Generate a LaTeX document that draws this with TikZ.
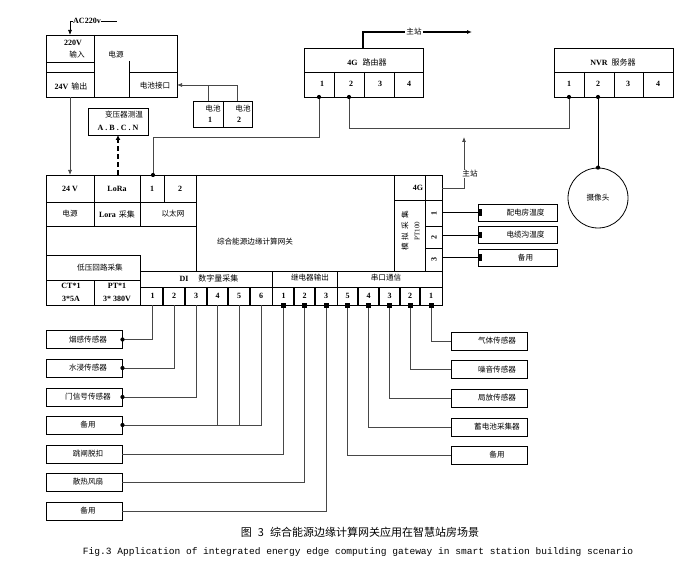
\documentclass[tikz,border=0pt]{standalone}
\usepackage{fontspec}
\setmainfont{Liberation Serif}
\newfontfamily\cjk{Noto Sans CJK SC}
\newfontfamily\mono{Liberation Mono}
\usetikzlibrary{arrows.meta,calc}
\begin{document}
\begin{tikzpicture}[x=1pt,y=-1pt,
 box/.style={draw=black,line width=0.95pt},
 zh/.style={font=\cjk\fontsize{7.6}{8}\selectfont,inner sep=0pt},
 en/.style={font=\bfseries\fontsize{8}{9}\selectfont,inner sep=0pt},
 sensor/.style={draw=black,line width=0.95pt,minimum width=76pt,minimum height=18pt,inner sep=0pt,font=\cjk\fontsize{7.6}{8}\selectfont},
 rsensor/.style={sensor,minimum width=79pt,minimum height=17pt},
 wire/.style={line width=0.75pt,draw=black!72},
 arr/.style={-{Latex[length=5pt,width=4pt]}},
]
\useasboundingbox (0,0) rectangle (687,561);

% ---------- power box ----------
\draw[box] (46,35) rectangle (177,97);
\draw[box] (94,35)--(94,97) (46,62)--(94,62) (46,72)--(94,72) (129,61)--(129,97) (129,72)--(177,72);
\node[en] (t220) at (73,43) {220V};
\node[zh] (tin) at (77,55) {输入};
\node[zh] (tpw) at (116,55) {电源};
\node[en] (t24o) at (71,86) {24V\hspace{3pt}{\cjk\mdseries 输出}};
\node[zh] (tbi) at (155,86) {电池接口};
\node[en] (tac) at (87,21) {AC220v};
\coordinate (pwrin) at (70,35);
\coordinate (acend) at (117,21);
\draw[arr,line width=0.7pt] (tac.west) -| (pwrin);
\draw[line width=0.7pt] (tac.east) -- (acend);

% ---------- batteries ----------
\draw[box] (193,101) rectangle (252,127) (223,101)--(223,127);
\node[zh] (tb1) at (213,109) {电池};
\node[en] (nb1) at (210,120) {1};
\node[zh] (tb2) at (243,109) {电池};
\node[en] (nb2) at (239,120) {2};
\coordinate (b1) at (208,101);
\coordinate (b2) at (237,101);
\coordinate (bj) at (237,85);
\coordinate (pbat) at (177,85);
\draw[wire] (b1) |- (bj);
\draw[wire,arr] (b2) -- (bj) -- (pbat);

% ---------- transformer temperature ----------
\draw[box] (88,108) rectangle (148,135);
\node[zh] (ttr) at (124,115) {变压器测温};
\node[en] (tabc) at (118,128) {A . B . C . N};
\coordinate (trb) at (118,135);
\coordinate (lora) at (118,175);
\draw[line width=1.6pt,dash pattern=on 5pt off 3pt,-{Latex[length=5pt,width=5pt]}] (lora) -- (trb);

% 24V line
\coordinate (pwrout) at (70,97);
\coordinate (gw24) at (70,175);
\draw[wire,arr] (pwrout) -- (gw24);

% ---------- 4G router ----------
\draw[box] (304,48) rectangle (423,97);
\draw[box] (304,72)--(423,72) (334,72)--(334,97) (364,72)--(364,97) (394,72)--(394,97);
\node[en] (trt) at (367,62) {4G\hspace{5pt}{\cjk\mdseries 路由器}};
\node[en] (r1l) at (322,84) {1};
\node[en] (r2l) at (351,84) {2};
\node[en] (r3l) at (380,84) {3};
\node[en] (r4l) at (409,84) {4};
\coordinate (rtop) at (363,48);
\node[zh,fill=white,inner sep=1pt] (zz1) at (414,32) {主站};
\coordinate (zzend) at (472,32);
\draw[line width=1.2pt] (rtop) |- (zz1.west);
\draw[line width=1.2pt,arr] (zz1.east) -- (zzend);

% ---------- NVR ----------
\draw[box] (554,48) rectangle (673,97);
\draw[box] (554,72)--(673,72) (584,72)--(584,97) (614,72)--(614,97) (643,72)--(643,97);
\node[en] (tnvr) at (613,62) {NVR\hspace{4pt}{\cjk\mdseries 服务器}};
\node[en] (n1l) at (569,84) {1};
\node[en] (n2l) at (598,84) {2};
\node[en] (n3l) at (628,84) {3};
\node[en] (n4l) at (658,84) {4};
\node[draw=black,line width=0.8pt,circle,minimum size=60pt,inner sep=0pt,font=\cjk\fontsize{7.6}{8}\selectfont] (cam) at (598,198) {摄像头};

% router / NVR wiring
\coordinate (r1) at (319,97);
\coordinate (r2) at (349,97);
\coordinate (n1) at (569,97);
\coordinate (n2) at (598,97);
\coordinate (e1) at (153,175);
\coordinate (k1) at (319,137);
\coordinate (k2) at (569,128);
\draw[wire] (e1) |- (k1) -- (r1);
\draw[wire] (r2) |- (k2) -- (n1);
\draw[line width=0.8pt] (n2) -- (cam.north);
\foreach \p in {r1,r2,n1,n2,e1} \fill (\p) circle (2.1pt);
\fill (cam.north) circle (2.1pt);

% ---------- gateway ----------
\draw[box] (46,175) rectangle (442,305);
\draw[box] (46,202)--(196,202) (46,226)--(196,226)
  (94,175)--(94,226) (140,175)--(140,226) (164,175)--(164,202) (196,175)--(196,271)
  (46,255)--(140,255) (140,255)--(140,305) (46,280)--(140,280) (94,280)--(94,305)
  (140,271)--(442,271) (140,287)--(442,287)
  (272,271)--(272,305) (337,271)--(337,305)
  (394,175)--(394,271) (425,175)--(425,271) (394,200)--(442,200) (425,226)--(442,226) (425,248)--(442,248);
\foreach \x in {163,185,207,228,250,294,315,358,379,400,420}
  \draw[line width=1.4pt] (\x,287)--(\x,305);

\node[en] (g24) at (70,189) {24 V};
\node[en] (glora) at (117,189) {LoRa};
\node[en] (ge1) at (152,189) {1};
\node[en] (ge2) at (180,189) {2};
\node[zh] (gpw) at (70,214) {电源};
\node[en] (glc) at (117,214) {Lora\hspace{3pt}{\cjk\mdseries 采集}};
\node[zh] (geth) at (173,214) {以太网};
\node[zh] (glv) at (100,268) {低压回路采集};
\node[en] (gct) at (71,286) {CT*1};
\node[en] (gct2) at (71,299) {3*5A};
\node[en] (gpt) at (117,286) {PT*1};
\node[en] (gpt2) at (117,299) {3* 380V};
\node[en] (gdi) at (209,278) {DI\hspace{10pt}{\cjk\mdseries 数字量采集}};
\node[zh] (grl) at (310,278) {继电器输出};
\node[zh] (gsr) at (386,278) {串口通信};
\node[zh] (gtitle) at (255,242) {综合能源边缘计算网关};
\node[en] (g4g) at (418,188) {4G};
\node[zh,rotate=90] (gan) at (405,231) {模\hspace{3pt}拟\hspace{3pt}采\hspace{3pt}集};
\node[font=\fontsize{7}{8}\selectfont,inner sep=0pt,rotate=90] (gpt100) at (417,231) {PT100};
\node[en,rotate=90] (ga1) at (434,213) {1};
\node[en,rotate=90] (ga2) at (434,237) {2};
\node[en,rotate=90] (ga3) at (434,259) {3};

% port numbers
\foreach \x/\l in {152.5/1,174/2,196/3,217.5/4,239/5,261/6,283.5/1,304.5/2,326/3,347.5/5,368.5/4,389.5/3,410/2,431/1}
  \node[en] at (\x,296) {\l};

% ---------- 4G to master station ----------
\coordinate (g4) at (442,188);
\coordinate (g4c) at (464,188);
\coordinate (g4up) at (464,137);
\draw[wire,arr] (g4) -- (g4c) -- (g4up);
\node[zh,fill=white,inner sep=1pt] (zz2) at (470,174) {主站};

% ---------- analog sensors ----------
\node[rsensor] (rt1) at (517.5,212.5) {\hspace*{16pt}配电房温度};
\node[rsensor] (rt2) at (517.5,235) {\hspace*{16pt}电缆沟温度};
\node[rsensor] (rt3) at (517.5,257.5) {\hspace*{16pt}备用};
\coordinate (a1) at (442,212.5);
\coordinate (a2) at (442,235);
\coordinate (a3) at (442,257.5);
\draw[line width=0.8pt] (a1) -- (rt1.west);
\draw[line width=0.8pt] (a2) -- (rt2.west);
\draw[line width=1.6pt] (a3) -- (rt3.west);
\foreach \n in {rt1,rt2,rt3} \fill ($(\n.west)+(0,-3.2)$) rectangle ++(4.5,6.4);

% ---------- left lower sensors ----------
\node[sensor] (ls1) at (84,339.5) {\hspace*{8pt}烟感传感器};
\node[sensor] (ls2) at (84,368) {\hspace*{8pt}水浸传感器};
\node[sensor] (ls3) at (84,397) {\hspace*{8pt}门信号传感器};
\node[sensor] (ls4) at (84,425) {\hspace*{8pt}备用};
\node[sensor] (ls5) at (84,454) {\hspace*{8pt}跳闸脱扣};
\node[sensor] (ls6) at (84,482) {\hspace*{8pt}散热风扇};
\node[sensor] (ls7) at (84,511) {\hspace*{8pt}备用};
\coordinate (di1) at (152.5,305);
\coordinate (di2) at (174,305);
\coordinate (di3) at (196,305);
\coordinate (di4) at (217.5,305);
\coordinate (di5) at (239,305);
\coordinate (di6) at (261,305);
\coordinate (do1) at (283.5,305);
\coordinate (do2) at (304.5,305);
\coordinate (do3) at (326,305);
\draw[wire] (di1) |- (ls1.east);
\draw[wire] (di2) |- (ls2.east);
\draw[wire] (di3) |- (ls3.east);
\draw[wire] (di6) |- (ls4.east);
\draw[wire] (di4) -- (di4 |- ls4.east);
\draw[wire] (di5) -- (di5 |- ls4.east);
\draw[wire] (do1) |- (ls5.east);
\draw[wire] (do2) |- (ls6.east);
\draw[wire] (do3) |- (ls7.east);
\foreach \n in {ls1,ls2,ls3,ls4} \fill (\n.east) circle (2.1pt);

% ---------- right lower sensors ----------
\node[sensor] (rs1) at (489,341) {\hspace*{16pt}气体传感器};
\node[sensor] (rs2) at (489,369.5) {\hspace*{16pt}噪音传感器};
\node[sensor] (rs3) at (489,398) {\hspace*{16pt}局放传感器};
\node[sensor] (rs4) at (489,427) {\hspace*{16pt}蓄电池采集器};
\node[sensor] (rs5) at (489,455) {\hspace*{16pt}备用};
\coordinate (s5) at (347.5,305);
\coordinate (s4) at (368.5,305);
\coordinate (s3) at (389.5,305);
\coordinate (s2) at (410,305);
\coordinate (s1) at (431,305);
\draw[wire] (s1) |- (rs1.west);
\draw[wire] (s2) |- (rs2.west);
\draw[wire] (s3) |- (rs3.west);
\draw[wire] (s4) |- (rs4.west);
\draw[wire] (s5) |- (rs5.west);
\foreach \p in {do1,do2,do3,s1,s2,s3,s4,s5} \fill ($(\p)+(-2.5,-2)$) rectangle ++(5,5);

% ---------- caption ----------
\node[font=\cjk\fontsize{11}{12}\selectfont,inner sep=0pt] (cap1) at (360,532) {图\hspace{6pt}3\hspace{6pt}综合能源边缘计算网关应用在智慧站房场景};
\node[font=\mono\fontsize{9.55}{11}\selectfont,inner sep=0pt] (cap2) at (358,552) {Fig.3 Application of integrated energy edge computing gateway in smart station building scenario};
\end{tikzpicture}
\end{document}
